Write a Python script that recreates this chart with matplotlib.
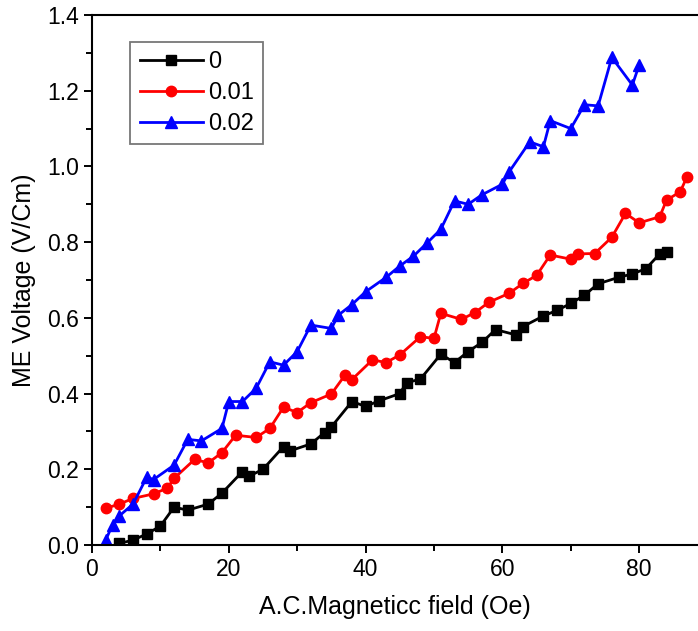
import matplotlib
matplotlib.use("Agg")
from matplotlib import pyplot as plt
import matplotlib.ticker as mticker

plt.rcParams["font.family"] = ["Liberation Sans", "DejaVu Sans"]

# field (Oe) and ME voltage (V/Cm) for each doping level
x_0 = [4, 6, 8, 10, 12, 14, 17, 19, 22, 23, 25, 28, 29, 32, 34, 35, 38, 40,
       42, 45, 46, 48, 51, 53, 55, 57, 59, 62, 63, 66, 68, 70, 72, 74, 77,
       79, 81, 83, 84]
y_0 = [0.004, 0.013, 0.029, 0.05, 0.10, 0.092, 0.108, 0.137, 0.194, 0.182,
       0.20, 0.26, 0.249, 0.267, 0.297, 0.312, 0.379, 0.366, 0.381, 0.40,
       0.429, 0.438, 0.504, 0.482, 0.511, 0.535, 0.569, 0.555, 0.577, 0.605,
       0.62, 0.638, 0.66, 0.69, 0.707, 0.716, 0.73, 0.769, 0.775]

x_001 = [2, 4, 6, 9, 11, 12, 15, 17, 19, 21, 24, 26, 28, 30, 32, 35, 37, 38,
         41, 43, 45, 48, 50, 51, 54, 56, 58, 61, 63, 65, 67, 70, 71, 73.5,
         76, 78, 80, 83, 84, 86, 87]
y_001 = [0.097, 0.108, 0.123, 0.135, 0.15, 0.176, 0.226, 0.217, 0.244, 0.29,
         0.284, 0.308, 0.364, 0.35, 0.376, 0.399, 0.449, 0.437, 0.489, 0.482,
         0.502, 0.55, 0.546, 0.612, 0.596, 0.614, 0.641, 0.665, 0.691, 0.712,
         0.766, 0.755, 0.769, 0.770, 0.813, 0.876, 0.851, 0.867, 0.911,
         0.933, 0.973]

x_002 = [2, 3, 4, 6, 8, 9, 12, 14, 16, 19, 20, 22, 24, 26, 28, 30, 32, 35,
         36, 38, 40, 43, 45, 47, 49, 51, 53, 55, 57, 60, 61, 64, 66, 67, 70,
         72, 74, 76, 79, 80]
y_002 = [0.013, 0.053, 0.077, 0.108, 0.179, 0.173, 0.211, 0.279, 0.275,
         0.308, 0.379, 0.379, 0.414, 0.484, 0.475, 0.511, 0.581, 0.572, 0.607,
         0.635, 0.669, 0.707, 0.737, 0.763, 0.798, 0.834, 0.909, 0.90, 0.925,
         0.953, 0.986, 1.065, 1.052, 1.121, 1.10, 1.163, 1.16, 1.288, 1.215,
         1.268]

labels = ["0", "0.01", "0.02"]

fig = plt.figure(figsize=(6.98, 6.31), dpi=100)
ax = fig.add_axes([0.1318, 0.1363, 0.8682, 0.8399])

ax.plot(x_0, y_0, color="black", marker="s", markersize=6.5, lw=2,
        label=labels[0])
ax.plot(x_001, y_001, color="#ff0000", marker="o", markersize=7.5, lw=2,
        label=labels[1])
ax.plot(x_002, y_002, color="#0000ff", marker="^", markersize=8.5, lw=2,
        label=labels[2])

ax.set_xlim(0, 88.6)
ax.set_ylim(0, 1.4)
ax.xaxis.set_major_locator(mticker.MultipleLocator(20))
ax.xaxis.set_minor_locator(mticker.MultipleLocator(10))
ax.yaxis.set_major_locator(mticker.MultipleLocator(0.2))
ax.yaxis.set_minor_locator(mticker.MultipleLocator(0.1))
ax.yaxis.set_major_formatter(mticker.FormatStrFormatter("%.1f"))

ax.spines["right"].set_visible(False)
for side in ["left", "bottom", "top"]:
    ax.spines[side].set_linewidth(1.5)
ax.tick_params(which="both", direction="out", top=False, right=False,
               width=1.4, labelsize=16.5)
ax.tick_params(which="major", length=6)
ax.tick_params(which="minor", length=4)

ax.set_xlabel("A.C.Magneticc field (Oe)", fontsize=18, labelpad=10)
ax.set_ylabel("ME Voltage (V/Cm)", fontsize=18, labelpad=8)

leg = ax.legend(loc="upper left", bbox_to_anchor=(0.063, 0.95), fontsize=17,
                fancybox=False, edgecolor="#555555", handlelength=2.7,
                borderpad=0.4, labelspacing=0.38, handletextpad=0.2,
                borderaxespad=0)
leg.get_frame().set_linewidth(1.3)

fig.savefig("out.png", dpi=100)
